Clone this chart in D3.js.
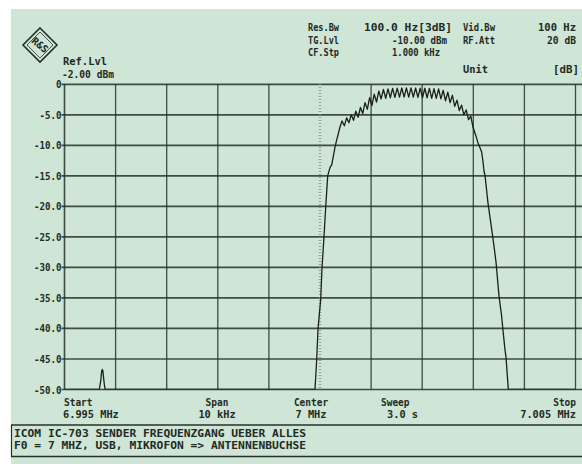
<!DOCTYPE html>
<html><head><meta charset="utf-8">
<script src="https://cdn.jsdelivr.net/npm/d3@7"></script>
<style>
body{margin:0;background:#fff}
svg{display:block}
text{font-family:"DejaVu Sans Mono",monospace;fill:#222a25;font-weight:bold}
</style>
</head><body>
<svg id="c" width="582" height="464"></svg>
<script>
// ---- data ----
const spanKHz = [0, 10];                 // offset from start 6.995 MHz
const levelRange = [0, -50];             // dB
const yTickValues = [0, -5, -10, -15, -20, -25, -30, -35, -40, -45, -50];
const yTickLabels = ["0", "-5.0", "-10.0", "-15.0", "-20.0", "-25.0", "-30.0", "-35.0", "-40.0", "-45.0", "-50.0"];
const xGridValues = [0, 1, 2, 3, 4, 6, 7, 8, 9, 10];
const centerKHz = 5;

// trace: frequency offset (kHz from 6.995 MHz) and level (dB)
const traceOffsetKHz = [
  0, 0.681, 0.71, 0.728, 0.740, 0.752, 0.77, 0.793, 4.90,
  4.902, 4.935, 4.961, 5.014, 5.039, 5.078, 5.112, 5.151, 5.196, 5.229, 5.254, 5.294, 5.327, 5.352, 5.391,
  5.431, 5.476, 5.521, 5.566, 5.611, 5.656, 5.701, 5.746, 5.791, 5.836, 5.881, 5.926, 5.971, 6.016,
  6.061, 6.106, 6.151, 6.196, 6.241, 6.286, 6.331, 6.376, 6.421, 6.466, 6.511, 6.556, 6.601, 6.646,
  6.691, 6.736, 6.781, 6.826, 6.871, 6.916, 6.961, 7.006, 7.051, 7.096, 7.141, 7.186, 7.231, 7.276,
  7.321, 7.366, 7.411, 7.456, 7.501, 7.546, 7.591, 7.636, 7.681, 7.726, 7.771, 7.816, 7.861, 7.906, 7.951,
  7.994, 8.053, 8.092, 8.131, 8.164, 8.190, 8.209, 8.229, 8.288, 8.346, 8.405, 8.444, 8.503, 8.552,
  8.581, 8.620, 8.640, 8.665, 8.685, 10
];
const traceLevelDb = [
  -50, -50, -48.5, -47.0, -46.7, -47.0, -48.5, -50, -50,
  -50, -45.2, -40.1, -35.2, -30.1, -25.0, -20.1, -15.0, -13.6, -13.2, -12.1, -10.3, -9.1, -8.3, -7.0,
  -6.0, -6.8, -5.5, -6.3, -5.0, -5.9, -4.4, -5.4, -3.8, -4.8, -3.0, -4.1, -2.2, -3.5,
  -1.6, -2.9, -1.1, -2.4, -0.85, -2.3, -0.74, -2.2, -0.67, -2.15, -0.63, -2.1, -0.61, -2.1,
  -0.6, -2.1, -0.6, -2.1, -0.61, -2.15, -0.62, -2.2, -0.65, -2.2, -0.68, -2.3, -0.72, -2.3,
  -0.76, -2.4, -0.98, -2.7, -1.3, -3.0, -1.8, -3.6, -2.6, -4.3, -3.4, -5.0, -4.2, -5.8, -5.2,
  -7.0, -8.5, -9.6, -10.4, -11.1, -12.7, -14.2, -14.9, -19.5, -22.9, -26.5, -29.1, -34.7, -37.8,
  -40.3, -43.5, -44.7, -47.6, -50, -50
];

const headerRows = [
  ["Res.Bw", "100.0 Hz[3dB]", "Vid.Bw", "100 Hz"],
  ["TG.Lvl", "-10.00 dBm", "RF.Att", "20 dB"],
  ["CF.Stp", "1.000 kHz", "", ""]
];
const footerLines = [
  "ICOM IC-703 SENDER FREQUENZGANG UEBER ALLES",
  "F0 = 7 MHZ, USB, MIKROFON => ANTENNENBUCHSE"
];
const bottomLabels = [
  ["Start", "6.995 MHz"], ["Span", "10 kHz"], ["Center", "7 MHz"], ["Sweep", "3.0 s"], ["Stop", "7.005 MHz"]
];

// ---- drawing ----
const svg = d3.select("#c");
const L = 64.5, R = 575.5, T = 84.3, B = 389.5;
const x = d3.scaleLinear().domain(spanKHz).range([L, R]);
const y = d3.scaleLinear().domain(levelRange).range([T, B]);
const ink = "#26302a";
const CW = 5.5; // character width of the display font

svg.append("rect").attr("x", 11).attr("y", 9).attr("width", 571).attr("height", 455).attr("fill", "#cfe5d5");

// horizontal grid
svg.append("g").selectAll("line").data(yTickValues).join("line")
  .attr("x1", L - 3).attr("x2", 582).attr("y1", d => y(d)).attr("y2", d => y(d))
  .attr("stroke", ink).attr("stroke-width", 1.7).attr("stroke-opacity", 0.85);
// vertical grid
svg.append("g").selectAll("line").data(xGridValues).join("line")
  .attr("x1", d => x(d)).attr("x2", d => x(d)).attr("y1", T).attr("y2", B)
  .attr("stroke", ink).attr("stroke-width", d => d === 0 ? 1.6 : 1.3).attr("stroke-opacity", 0.85);
// center dotted line
svg.append("line").attr("x1", x(centerKHz)).attr("x2", x(centerKHz)).attr("y1", T).attr("y2", B)
  .attr("stroke", "#7d8f84").attr("stroke-width", 2.5).attr("stroke-dasharray", "0.8 2.2");

// y labels via axis
const yAxis = d3.axisLeft(y).tickValues(yTickValues).tickFormat((d, i) => yTickLabels[i]).tickSize(0).tickPadding(3);
const gy = svg.append("g").attr("transform", `translate(${L},0)`).call(yAxis);
gy.select(".domain").remove();
gy.selectAll("text").attr("font-size", 11).attr("font-family", "DejaVu Sans Mono").attr("fill", "#222a25")
  .attr("textLength", (d, i) => yTickLabels[i].length * 5.5).attr("lengthAdjust", "spacingAndGlyphs");

// trace
svg.append("defs").append("clipPath").attr("id", "clip").append("rect")
  .attr("x", L).attr("y", T - 2).attr("width", R - L).attr("height", B - T + 2);
const line = d3.line().x(d => x(d[0])).y(d => y(d[1]));
svg.append("path").datum(traceOffsetKHz.map((f, i) => [f, traceLevelDb[i]]))
  .attr("clip-path", "url(#clip)")
  .attr("d", line).attr("fill", "none").attr("stroke", "#1b1f1c").attr("stroke-width", 1.3)
  .attr("stroke-linejoin", "round");

// logo
const lg = svg.append("g").attr("transform", "translate(40,45)");
lg.append("path").attr("d", "M0,-17 L17,0 L0,17 L-17,0 Z").attr("fill", "none").attr("stroke", ink).attr("stroke-width", 1.6);
lg.append("path").attr("d", "M0,-13 L13,0 L0,13 L-13,0 Z").attr("fill", "none").attr("stroke", ink).attr("stroke-width", 0.8);
lg.append("text").attr("transform", "rotate(40)").attr("text-anchor", "middle").attr("dy", "0.35em")
  .attr("font-family", "DejaVu Serif").attr("font-size", 10).attr("font-weight", "bold").text("R&S");

const t = (s, xx, yy, anchor, w, size) => svg.append("text").attr("x", xx).attr("y", yy)
  .attr("text-anchor", anchor || "start").attr("font-size", size || 11)
  .attr("textLength", w || s.length * CW).attr("lengthAdjust", "spacingAndGlyphs").text(s);

t("Ref.Lvl", 63, 65, "start", 44, 10.5);
t("-2.00 dBm", 62, 77.5, "start", 52, 10.5);

const rowY = [31, 43.5, 56];
const valueEnd = [452, 447, 440];
const valueW = [88, 55, 48];
headerRows.forEach((r, i) => {
  t(r[0], 308, rowY[i], "start", 31, 10.5);
  t(r[1], valueEnd[i], rowY[i], "end", valueW[i], 10.5);
  if (r[2]) t(r[2], 463, rowY[i], "start", 32, 10.5);
  if (r[3]) t(r[3], 576, rowY[i], "end", i === 0 ? 38 : 29, 10.5);
});
t("Unit", 463, 73, "start", 25);
t("[dB]", 579, 73, "end", 26);

// bottom labels
const bx = [[64, "start"], [217, "middle"], [311, "middle"], [381, "start"], [576, "end"]];
bottomLabels.forEach((b, i) => {
  t(b[0], bx[i][0], 405.5, bx[i][1], b[0].length * 5.7, 10.5);
  t(b[1], bx[i][0] + (i === 0 ? -1 : (i === 3 ? 6 : 0)), 418, bx[i][1], b[1].length * 6.2, 10.5);
});

// footer box
svg.append("line").attr("x1", 11).attr("x2", 582).attr("y1", 425).attr("y2", 425).attr("stroke", ink).attr("stroke-width", 1.5);
svg.append("line").attr("x1", 11).attr("x2", 582).attr("y1", 456.5).attr("y2", 456.5).attr("stroke", ink).attr("stroke-width", 1.5);
svg.append("line").attr("x1", 11.5).attr("x2", 11.5).attr("y1", 425).attr("y2", 456.5).attr("stroke", ink).attr("stroke-width", 1.2);
footerLines.forEach((s, i) => t(s, 14, 436.5 + i * 12.5, "start", 292, 10.5));
</script>
</body></html>
